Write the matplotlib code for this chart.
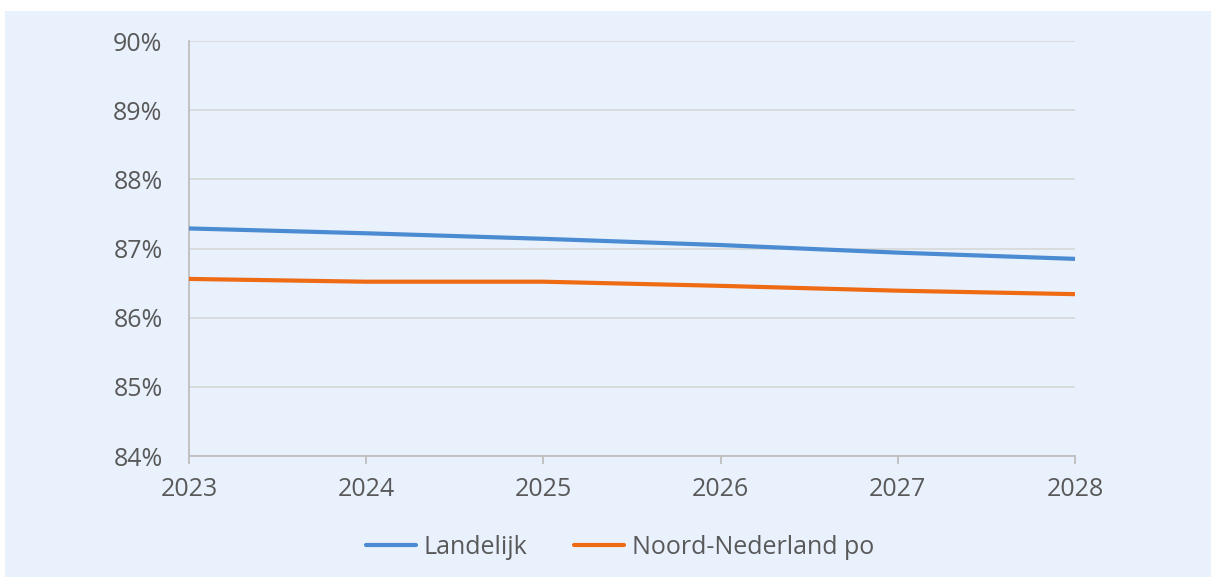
import matplotlib
matplotlib.use("Agg")
import matplotlib.pyplot as plt
from matplotlib.patches import Rectangle
from matplotlib.ticker import FuncFormatter

years = [2023, 2024, 2025, 2026, 2027, 2028]
landelijk = [87.29, 87.22, 87.14, 87.05, 86.94, 86.85]
noord = [86.56, 86.52, 86.52, 86.46, 86.39, 86.34]

bg = '#E9F1FD'
grey_text = '#595959'

plt.rcParams['font.family'] = ['Open Sans', 'DejaVu Sans']

fig = plt.figure(figsize=(12.11, 5.77), dpi=100, facecolor='white')
fig.patches.append(Rectangle((5/1211, 0), 1 - 5/1211, 1 - 11/577,
                             transform=fig.transFigure, facecolor=bg,
                             edgecolor='none', zorder=-10))

ax = fig.add_axes([189/1211, 121/577, 886/1211, 415/577])
ax.patch.set_visible(False)

ax.plot(years, landelijk, color='#4A8BD2', lw=3, label='Landelijk',
        solid_capstyle='round', zorder=3)
ax.plot(years, noord, color='#EE6B14', lw=3, label='Noord-Nederland po',
        solid_capstyle='round', zorder=3)

ax.set_xlim(2023, 2028)
ax.set_ylim(84, 90)
ax.set_xticks(years)
ax.set_yticks(range(84, 91))
ax.yaxis.set_major_formatter(FuncFormatter(lambda v, p: f'{int(v)}%'))

ax.grid(axis='y', color='#D9D9D9', lw=1.3)
ax.set_axisbelow(True)
for s in ['top', 'right']:
    ax.spines[s].set_visible(False)
for s in ['left', 'bottom']:
    ax.spines[s].set_color('#BFBFBF')
    ax.spines[s].set_linewidth(1.3)

ax.tick_params(axis='y', length=0, pad=19, labelsize=18, labelcolor=grey_text)
ax.tick_params(axis='x', length=6, width=1.3, color='#BFBFBF', pad=9,
               labelsize=18, labelcolor=grey_text)

leg = fig.legend(loc='center', bbox_to_anchor=(620/1211, 1 - 547/577), ncol=2,
                 frameon=False, fontsize=18, labelcolor=grey_text,
                 handlelength=2.0, handletextpad=0.3, columnspacing=1.9)

fig.savefig('out.png', dpi=100, facecolor=fig.get_facecolor())
